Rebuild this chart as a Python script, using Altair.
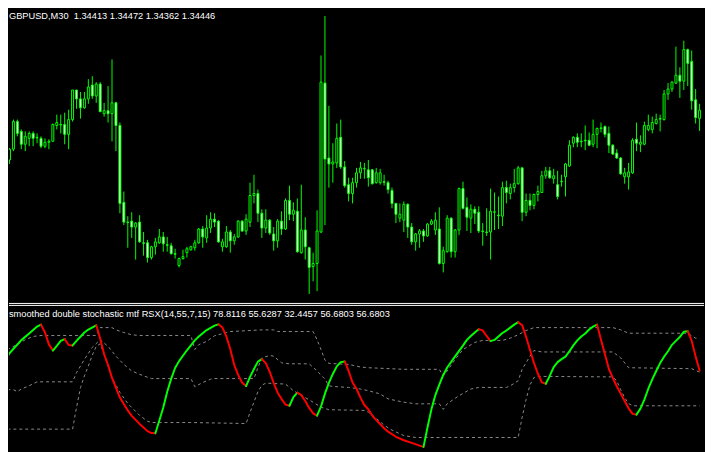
import altair as alt
import pandas as pd

symbol = "GBPUSD"
timeframe = "M30"
ind_name = "smoothed double stochastic mtf RSX"
ind_params = [14, 55, 7, 15]

opens = [
    1.34268, 1.34276, 1.34244, 1.34288, 1.34400, 1.34360, 1.34308, 1.34332, 1.34352, 1.34336,
    1.34332, 1.34300, 1.34316, 1.34320, 1.34384, 1.34388, 1.34388, 1.34348, 1.34408, 1.34528,
    1.34492, 1.34456, 1.34492, 1.34548, 1.34504, 1.34552, 1.34432, 1.34444, 1.34432, 1.34476,
    1.34384, 1.34072, 1.33992, 1.33996, 1.33972, 1.33992, 1.33908, 1.33908, 1.33848, 1.33892,
    1.33908, 1.33932, 1.33900, 1.33896, 1.33864, 1.33816, 1.33844, 1.33868, 1.33880, 1.33888,
    1.33908, 1.33964, 1.33928, 1.33968, 1.34004, 1.33996, 1.33892, 1.33892, 1.33952, 1.33916,
    1.33932, 1.33996, 1.33956, 1.33992, 1.34100, 1.34108, 1.34028, 1.33968, 1.34000, 1.33944,
    1.33916, 1.33996, 1.33964, 1.34080, 1.34024, 1.34036, 1.33868, 1.33960, 1.33888, 1.33812,
    1.33824, 1.33952, 1.34556, 1.34252, 1.34228, 1.34232, 1.34336, 1.34216, 1.34144, 1.34108,
    1.34152, 1.34192, 1.34208, 1.34204, 1.34204, 1.34152, 1.34152, 1.34156, 1.34152, 1.34120,
    1.34068, 1.34008, 1.34000, 1.34064, 1.33972, 1.33912, 1.33944, 1.33956, 1.33936, 1.33984,
    1.33960, 1.33964, 1.33824, 1.33872, 1.34008, 1.33872, 1.33960, 1.34128, 1.34052, 1.34008,
    1.34044, 1.34032, 1.33956, 1.33952, 1.33952, 1.34032, 1.34020, 1.34016, 1.34132, 1.34108,
    1.34132, 1.34148, 1.34212, 1.34032, 1.34080, 1.34060, 1.34104, 1.34112, 1.34180, 1.34200,
    1.34168, 1.34144, 1.34156, 1.34176, 1.34220, 1.34312, 1.34336, 1.34320, 1.34324, 1.34324,
    1.34308, 1.34348, 1.34372, 1.34380, 1.34352, 1.34304, 1.34272, 1.34252, 1.34176, 1.34176,
    1.34192, 1.34328, 1.34308, 1.34308, 1.34368, 1.34368, 1.34392, 1.34412, 1.34408, 1.34512,
    1.34532, 1.34556, 1.34588, 1.34564, 1.34692, 1.34644, 1.34488, 1.34413,
]
highs = [
    1.34292, 1.34280, 1.34292, 1.34408, 1.34408, 1.34368, 1.34360, 1.34360, 1.34360, 1.34352,
    1.34340, 1.34332, 1.34328, 1.34392, 1.34428, 1.34428, 1.34436, 1.34448, 1.34528, 1.34528,
    1.34520, 1.34520, 1.34572, 1.34584, 1.34560, 1.34560, 1.34476, 1.34544, 1.34652, 1.34480,
    1.34396, 1.34116, 1.34016, 1.34032, 1.33992, 1.34020, 1.33952, 1.33920, 1.33896, 1.33928,
    1.33964, 1.33952, 1.33932, 1.33908, 1.33884, 1.33848, 1.33880, 1.33892, 1.33896, 1.33920,
    1.33968, 1.33976, 1.34020, 1.34032, 1.34028, 1.34000, 1.33924, 1.33976, 1.33960, 1.33944,
    1.34000, 1.34000, 1.34024, 1.34152, 1.34184, 1.34124, 1.34044, 1.34044, 1.34004, 1.33972,
    1.34004, 1.34036, 1.34088, 1.34140, 1.34072, 1.34088, 1.34144, 1.34012, 1.33892, 1.33868,
    1.34040, 1.34668, 1.34828, 1.34464, 1.34312, 1.34392, 1.34408, 1.34240, 1.34172, 1.34172,
    1.34212, 1.34236, 1.34232, 1.34244, 1.34208, 1.34212, 1.34208, 1.34184, 1.34160, 1.34132,
    1.34068, 1.34068, 1.34076, 1.34068, 1.33988, 1.33948, 1.33964, 1.33964, 1.33988, 1.34004,
    1.34032, 1.34052, 1.33892, 1.34020, 1.34012, 1.33964, 1.34132, 1.34156, 1.34092, 1.34064,
    1.34056, 1.34056, 1.33988, 1.34048, 1.34128, 1.34112, 1.34096, 1.34156, 1.34160, 1.34148,
    1.34208, 1.34220, 1.34216, 1.34108, 1.34108, 1.34108, 1.34140, 1.34200, 1.34216, 1.34216,
    1.34208, 1.34200, 1.34184, 1.34232, 1.34324, 1.34340, 1.34352, 1.34352, 1.34384, 1.34356,
    1.34408, 1.34376, 1.34396, 1.34384, 1.34380, 1.34308, 1.34288, 1.34256, 1.34212, 1.34232,
    1.34332, 1.34396, 1.34344, 1.34400, 1.34428, 1.34420, 1.34432, 1.34428, 1.34528, 1.34556,
    1.34564, 1.34704, 1.34620, 1.34728, 1.34696, 1.34688, 1.34532, 1.34472,
]
lows = [
    1.34264, 1.34228, 1.34228, 1.34280, 1.34340, 1.34288, 1.34280, 1.34300, 1.34300, 1.34312,
    1.34292, 1.34292, 1.34288, 1.34320, 1.34368, 1.34352, 1.34308, 1.34288, 1.34400, 1.34452,
    1.34412, 1.34452, 1.34472, 1.34492, 1.34476, 1.34440, 1.34420, 1.34396, 1.34320, 1.34280,
    1.34028, 1.33980, 1.33888, 1.33928, 1.33840, 1.33908, 1.33856, 1.33828, 1.33840, 1.33860,
    1.33904, 1.33872, 1.33872, 1.33860, 1.33844, 1.33808, 1.33840, 1.33848, 1.33876, 1.33876,
    1.33904, 1.33888, 1.33908, 1.33948, 1.33972, 1.33908, 1.33872, 1.33888, 1.33868, 1.33900,
    1.33928, 1.33952, 1.33940, 1.33972, 1.34068, 1.33992, 1.33928, 1.33948, 1.33940, 1.33876,
    1.33888, 1.33940, 1.33960, 1.34000, 1.33996, 1.33868, 1.33864, 1.33840, 1.33700, 1.33752,
    1.33712, 1.33948, 1.33980, 1.34132, 1.34152, 1.34212, 1.34208, 1.34132, 1.34076, 1.34068,
    1.34132, 1.34168, 1.34168, 1.34136, 1.34144, 1.34148, 1.34144, 1.34140, 1.34108, 1.34048,
    1.33988, 1.33992, 1.33952, 1.33928, 1.33900, 1.33876, 1.33888, 1.33912, 1.33932, 1.33980,
    1.33940, 1.33820, 1.33788, 1.33868, 1.33848, 1.33848, 1.33940, 1.34044, 1.33956, 1.33948,
    1.33984, 1.33948, 1.33896, 1.33936, 1.33840, 1.33960, 1.33964, 1.33976, 1.34068, 1.34084,
    1.34112, 1.34144, 1.33996, 1.34016, 1.34040, 1.34044, 1.34076, 1.34112, 1.34168, 1.34168,
    1.34148, 1.34084, 1.34136, 1.34096, 1.34216, 1.34296, 1.34296, 1.34296, 1.34284, 1.34300,
    1.34296, 1.34292, 1.34356, 1.34336, 1.34272, 1.34264, 1.34248, 1.34184, 1.34148, 1.34124,
    1.34188, 1.34280, 1.34276, 1.34304, 1.34360, 1.34352, 1.34388, 1.34360, 1.34404, 1.34488,
    1.34520, 1.34552, 1.34496, 1.34528, 1.34544, 1.34448, 1.34392, 1.34362,
]
closes = [
    1.34284, 1.34244, 1.34288, 1.34400, 1.34352, 1.34308, 1.34340, 1.34352, 1.34332, 1.34334,
    1.34300, 1.34316, 1.34320, 1.34388, 1.34396, 1.34386, 1.34348, 1.34408, 1.34528, 1.34492,
    1.34456, 1.34492, 1.34540, 1.34504, 1.34552, 1.34440, 1.34444, 1.34432, 1.34476, 1.34384,
    1.34068, 1.33992, 1.33990, 1.33972, 1.33988, 1.33912, 1.33906, 1.33848, 1.33892, 1.33912,
    1.33932, 1.33904, 1.33898, 1.33864, 1.33862, 1.33844, 1.33852, 1.33884, 1.33892, 1.33908,
    1.33964, 1.33932, 1.33968, 1.34004, 1.33992, 1.33912, 1.33912, 1.33952, 1.33916, 1.33932,
    1.33996, 1.33956, 1.34004, 1.34100, 1.34108, 1.34028, 1.33968, 1.34000, 1.33948, 1.33916,
    1.33996, 1.33964, 1.34080, 1.34024, 1.34040, 1.33872, 1.33960, 1.33892, 1.33808, 1.33824,
    1.33956, 1.34560, 1.34248, 1.34228, 1.34236, 1.34332, 1.34216, 1.34140, 1.34108, 1.34152,
    1.34192, 1.34212, 1.34210, 1.34172, 1.34148, 1.34192, 1.34192, 1.34154, 1.34124, 1.34068,
    1.34024, 1.34024, 1.34064, 1.33972, 1.33912, 1.33944, 1.33956, 1.33936, 1.33984, 1.33996,
    1.34000, 1.33824, 1.33876, 1.34008, 1.33872, 1.33960, 1.34128, 1.34048, 1.34012, 1.34044,
    1.34028, 1.33956, 1.33954, 1.33950, 1.34036, 1.34034, 1.34018, 1.34132, 1.34112, 1.34132,
    1.34148, 1.34212, 1.34032, 1.34080, 1.34060, 1.34104, 1.34116, 1.34180, 1.34200, 1.34172,
    1.34180, 1.34096, 1.34158, 1.34228, 1.34304, 1.34336, 1.34316, 1.34318, 1.34322, 1.34304,
    1.34348, 1.34372, 1.34374, 1.34348, 1.34304, 1.34268, 1.34252, 1.34188, 1.34192, 1.34196,
    1.34324, 1.34312, 1.34316, 1.34384, 1.34384, 1.34396, 1.34408, 1.34410, 1.34512, 1.34532,
    1.34560, 1.34588, 1.34564, 1.34692, 1.34636, 1.34484, 1.34416, 1.34446,
]

# indicator main line (RSX double stochastic), read at bar indices
rsx_bars = [
    0, 2, 5, 7, 9, 10, 11, 12, 13, 14,
    15, 16, 17, 18, 19, 21, 22, 24, 25, 26,
    27, 28, 30, 32, 33, 35, 37, 38, 39, 40,
    41, 42, 43, 44, 45, 47, 49, 50, 52, 54,
    55, 56, 57, 58, 59, 60, 61, 62, 63, 64,
    65, 66, 67, 68, 69, 70, 71, 72, 73, 74,
    75, 76, 77, 78, 79, 80, 81, 82, 83, 84,
    85, 86, 87, 88, 89, 90, 91, 92, 93, 94,
    95, 97, 98, 100, 102, 104, 106, 107, 108, 109,
    110, 111, 112, 113, 115, 117, 118, 119, 120, 121,
    122, 123, 124, 125, 126, 127, 128, 129, 130, 131,
    132, 133, 134, 135, 136, 137, 138, 139, 140, 141,
    142, 143, 144, 145, 146, 147, 148, 149, 150, 151,
    152, 153, 154, 155, 156, 157, 158, 159, 160, 161,
    162, 163, 164, 165, 166, 167, 168, 169, 170, 171,
    172, 173, 174, 175, 176, 177,
]
rsx_vals = [
    58.45, 68.63, 77.66, 82.21, 86.97, 88.32, 82.89, 74.75, 70.47, 73.73,
    77.12, 78.34, 74.27, 74.0, 77.12, 82.89, 84.93, 87.85, 78.82, 67.96,
    60.49, 51.66, 38.08, 29.26, 25.53, 19.96, 15.0, 13.64, 13.5, 22.27,
    31.3, 42.16, 50.98, 58.45, 63.2, 70.67, 77.46, 80.18, 84.59, 87.64,
    88.53, 86.29, 80.18, 71.35, 60.49, 53.7, 48.27, 46.03, 52.34, 57.77,
    62.86, 64.56, 61.85, 55.74, 48.27, 41.48, 37.07, 33.33, 32.45, 38.42,
    41.48, 39.78, 35.71, 30.96, 27.22, 25.66, 31.97, 40.8, 48.27, 54.38,
    59.61, 62.52, 63.0, 56.41, 48.47, 44.19, 38.08, 33.0, 29.94, 25.7,
    22.6, 17.0, 14.6, 11.1, 8.7, 6.86, 5.0, 4.14, 17.5, 30.0,
    39.8, 47.0, 53.7, 58.8, 66.5, 73.9, 77.8, 80.52, 82.89, 85.1,
    84.4, 80.52, 76.99, 77.8, 80.18, 82.55, 84.25, 86.29, 88.32, 90.02,
    88.0, 80.0, 70.9, 62.0, 54.5, 48.6, 47.59, 53.0, 59.13, 62.52,
    64.56, 66.26, 69.99, 74.07, 77.46, 80.18, 82.21, 84.93, 86.97, 88.32,
    78.0, 67.96, 57.77, 51.6, 45.9, 40.8, 35.7, 30.7, 26.88, 26.34,
    30.5, 36.73, 44.19, 50.64, 56.41, 61.85, 66.26, 69.99, 74.41, 77.12,
    79.84, 83.4, 83.8, 77.2, 66.3, 56.6803,
]

# dotted levels (upper / middle / lower)
up_bars = [0, 1, 4, 6, 8, 10, 24, 25, 28, 29, 31, 33, 35, 48, 49, 50, 52, 54, 57, 58,
           66, 69, 70, 79, 80, 81, 82, 83, 88, 91, 93, 102, 111, 112, 113, 115, 117,
           120, 122, 127, 129, 131, 133, 135, 155, 157, 159, 174, 176, 177]
up_vals = [70.47, 70.47, 74.75, 77.94, 80.18, 80.86, 80.86, 86.29, 86.29, 84.72, 82.89, 81.33,
           80.86, 80.86, 71.15, 74.54, 76.78, 80.65, 82.89, 83.57, 84.72, 84.72, 83.57, 83.57,
           77.94, 71.15, 63.88, 61.64, 60.96, 59.13, 58.66, 57.57, 57.57, 53.02, 56.41, 64.36,
           71.15, 76.10, 77.46, 77.46, 79.02, 81.33, 84.25, 86.29, 86.29, 84.72, 82.42, 82.42,
           79.02, 78.8116]
mid_bars = [0, 3, 4, 5, 7, 9, 18, 19, 21, 23, 25, 27, 29, 31, 33, 36, 38, 48, 49, 51, 53, 54,
            64, 65, 66, 68, 69, 71, 73, 78, 80, 82, 83, 84, 88, 91, 93, 96, 98, 102, 105, 111,
            112, 113, 116, 119, 121, 128, 129, 131, 132, 134, 135, 137, 155, 157, 159, 175, 177]
mid_vals = [43.52, 43.52, 42.16, 43.99, 46.23, 48.95, 48.95, 55.26, 64.36, 72.71, 77.94, 73.39,
            66.60, 60.96, 56.41, 53.02, 51.19, 51.19, 45.55, 48.47, 50.78, 51.19, 51.19, 58.66,
            65.44, 67.07, 66.60, 62.05, 61.37, 61.37, 56.41, 50.78, 46.23, 45.76, 45.08, 43.99,
            42.84, 40.60, 37.20, 34.89, 33.81, 33.81, 29.94, 33.81, 39.44, 43.99, 45.08, 45.08,
            46.23, 49.63, 57.57, 66.60, 70.47, 69.52, 69.52, 65.44, 58.66, 57.98, 55.6287]
low_bars = [0, 18, 19, 20, 21, 22, 23, 24, 25, 26, 28, 30, 32, 35, 37, 38, 48, 62, 63, 65,
            66, 67, 72, 74, 77, 79, 81, 83, 92, 93, 95, 97, 99, 102, 105, 131, 132, 133, 134,
            135, 136, 155, 156, 157, 158, 159, 160, 177]
low_vals = [16.36, 16.36, 31.30, 44.87, 53.02, 59.81, 67.28, 73.39, 75.08, 67.96, 51.66, 41.68,
            34.01, 25.86, 21.79, 20.91, 20.91, 20.23, 27.90, 42.16, 46.57, 48.06, 47.39, 42.84,
            38.08, 34.89, 31.50, 29.73, 29.26, 28.10, 23.83, 19.08, 15.68, 11.95, 10.6, 10.6,
            24.51, 36.73, 46.91, 51.87, 52.68, 52.34, 49.63, 43.52, 38.08, 34.01, 32.4457, 32.4457]

# ---------------------------------------------------------------- tables
n = len(opens)
candles = pd.DataFrame({
    "bar": list(range(n)), "open": opens, "high": highs, "low": lows, "close": closes,
})
candles["kind"] = ["bear" if c < o else "bull" for o, c in zip(opens, closes)]

level_rows = []
for name, bs, vs in (("upper", up_bars, up_vals), ("middle", mid_bars, mid_vals),
                     ("lower", low_bars, low_vals)):
    for b, v in zip(bs, vs):
        level_rows.append({"bar": b, "value": v, "level": name})
levels = pd.DataFrame(level_rows)

rows = []
run = 0
prev = None
for i in range(1, len(rsx_bars)):
    d = "up" if rsx_vals[i] >= rsx_vals[i - 1] else "down"
    if d != prev:
        run += 1
        rows.append({"bar": rsx_bars[i - 1], "value": rsx_vals[i - 1], "run": run, "dir": d})
        prev = d
    rows.append({"bar": rsx_bars[i], "value": rsx_vals[i], "run": run, "dir": d})
rsx = pd.DataFrame(rows)

header = f"{symbol},{timeframe}\u00a0 {opens[-1]:.5f} {highs[-1]:.5f} {lows[-1]:.5f} {closes[-1]:.5f}"
label = (f"{ind_name}({','.join(str(p) for p in ind_params)}) "
         f"{up_vals[-1]:.4f} {mid_vals[-1]:.4f} {low_vals[-1]:.4f} {rsx_vals[-1]:.4f} {rsx_vals[-1]:.4f}")

# ---------------------------------------------------------------- chart
# the page puts the chart at (8, 8): the panels show the window from there on
W = 705
LIME = "#00FF00"
FONT = "Liberation Sans"

xs = alt.Scale(domain=[1.875, n + 0.125], nice=False, zero=False)
ps = alt.Scale(domain=[1.33664, 1.34848], nice=False, zero=False)
vs = alt.Scale(domain=[2.78, 103.26], nice=False, zero=False)

wicks = alt.Chart(candles).mark_rule(color=LIME, strokeWidth=1, clip=True).encode(
    x=alt.X("bar:Q", scale=xs, axis=None),
    y=alt.Y("low:Q", scale=ps, axis=None),
    y2="high:Q",
)
bodies = alt.Chart(candles).transform_calculate(
    xl="datum.bar - 0.25", xr="datum.bar + 0.25"
).mark_rect(stroke=LIME, strokeWidth=1, clip=True).encode(
    x=alt.X("xl:Q", scale=xs, axis=None),
    x2="xr:Q",
    y=alt.Y("open:Q", scale=ps, axis=None),
    y2="close:Q",
    fill=alt.Fill("kind:N", scale=alt.Scale(domain=["bear", "bull"],
                                            range=["#FFFFFF", "#000000"]), legend=None),
)
head = alt.Chart(pd.DataFrame({"t": [header]})).mark_text(
    align="left", baseline="alphabetic", color="#FFFFFF", font=FONT, fontSize=9.4
).encode(x=alt.value(0), y=alt.value(8), text="t:N")

top = alt.layer(wicks, bodies, head).properties(width=W, height=296)

dots = alt.Chart(levels).mark_line(
    color="#8A8A8A", strokeWidth=1, strokeDash=[3, 3], clip=True
).encode(
    x=alt.X("bar:Q", scale=xs, axis=None),
    y=alt.Y("value:Q", scale=vs, axis=None),
    detail="level:N",
)
main = alt.Chart(rsx).mark_line(strokeWidth=2, strokeCap="round", strokeJoin="round", clip=True).encode(
    x=alt.X("bar:Q", scale=xs, axis=None),
    y=alt.Y("value:Q", scale=vs, axis=None),
    detail="run:N",
    color=alt.Color("dir:N", scale=alt.Scale(domain=["up", "down"], range=[LIME, "#FF0000"]),
                    legend=None),
)
sep_df = pd.DataFrame({"s": [0]})
sep1 = alt.Chart(sep_df).mark_rule(color="#FFFFFF", strokeWidth=1).encode(
    x=alt.value(0), x2=alt.value(W), y=alt.value(0.5))
sep2 = alt.Chart(sep_df).mark_rule(color="#FFFFFF", strokeWidth=1).encode(
    x=alt.value(0), x2=alt.value(W), y=alt.value(2.5))
lab = alt.Chart(pd.DataFrame({"t": [label]})).mark_text(
    align="left", baseline="alphabetic", color="#FFFFFF", font=FONT, fontSize=9.4
).encode(x=alt.value(0), y=alt.value(14), text="t:N")

bottom = alt.layer(dots, main, sep1, sep2, lab).properties(width=W, height=148)

chart = alt.vconcat(top, bottom, spacing=0).properties(
    padding=0,
    background="#000000",
).configure_view(strokeWidth=0, fill="#000000")

chart.save("out.html", embed_options={"renderer": "svg", "actions": False})
